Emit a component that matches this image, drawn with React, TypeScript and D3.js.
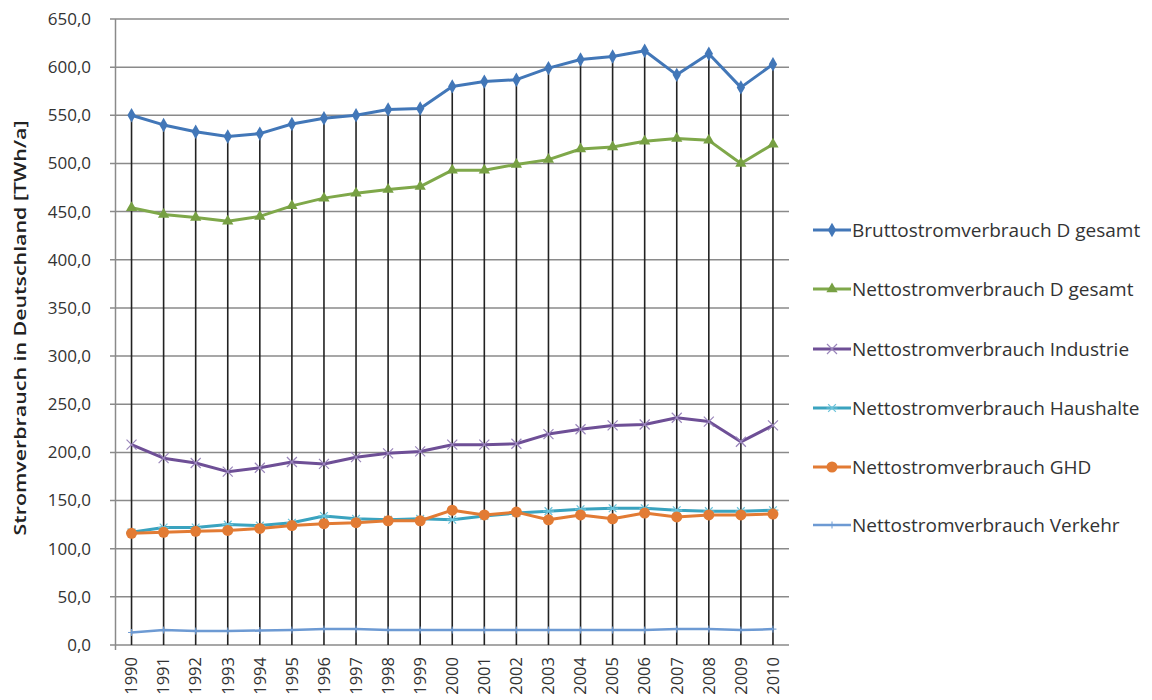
import React from 'react'
import * as d3 from 'd3'

const years = [
	'1990', '1991', '1992', '1993', '1994', '1995', '1996', '1997', '1998', '1999', '2000',
	'2001', '2002', '2003', '2004', '2005', '2006', '2007', '2008', '2009', '2010',
]

const brutto = [550, 540, 533, 528, 531, 541, 547, 550, 556, 557, 580, 585, 587, 599, 608, 611, 617, 592, 614, 579, 603]
const nettoGesamt = [454, 447, 444, 440, 445, 456, 464, 469, 473, 476, 493, 493, 499, 504, 515, 517, 523, 526, 524, 500, 520]
const industrie = [208, 194, 189, 180, 184, 190, 188, 195, 199, 201, 208, 208, 209, 219, 224, 228, 229, 236, 232, 211, 228]
const haushalte = [117, 122, 122, 125, 124, 127, 134, 131, 130, 131, 130, 134, 137, 139, 141, 142, 142, 140, 139, 139, 140]
const ghd = [116, 117, 118, 119, 121, 124, 126, 127, 129, 129, 140, 135, 138, 130, 135, 131, 137, 133, 135, 135, 136]
const verkehr = [13, 15.5, 14.5, 14.5, 15, 15.5, 16.5, 16.5, 15.5, 15.5, 15.5, 15.5, 15.5, 15.5, 15.5, 15.5, 15.5, 16.5, 16.5, 15.5, 16.5]

const yTicks = [0, 50, 100, 150, 200, 250, 300, 350, 400, 450, 500, 550, 600, 650]

const seriesNames = [
	'Bruttostromverbrauch D gesamt',
	'Nettostromverbrauch D gesamt',
	'Nettostromverbrauch Industrie',
	'Nettostromverbrauch Haushalte',
	'Nettostromverbrauch GHD',
	'Nettostromverbrauch Verkehr',
]

const FONT = 'Open Sans, sans-serif'

// marker shapes
const asterisk = (r: number) => {
	const a = r * 0.7
	return `M${-r},0H${r}M${-a},${-a}L${a},${a}M${-a},${a}L${a},${-a}`
}
const cross = (r: number) => `M${-r},${-r}L${r},${r}M${-r},${r}L${r},${-r}`
const plus = (r: number) => `M${-r},0H${r}M0,${-r}V${r}`

const series = [
	{ values: brutto, color: '#4277b8', width: 3, marker: 'diamond' },
	{ values: nettoGesamt, color: '#7fa84a', width: 3, marker: 'triangle' },
	{ values: industrie, color: '#6e4f96', width: 3, marker: 'x' },
	{ values: haushalte, color: '#3aa3bf', width: 3, marker: 'asterisk' },
	{ values: ghd, color: '#e27b34', width: 3, marker: 'circle' },
	{ values: verkehr, color: '#6d9ad3', width: 2.5, marker: 'plus' },
]

const Marker = ({ type, color, x, y }: { type: string; color: string; x: number; y: number }) => {
	const t = `translate(${x},${y})`
	if (type === 'diamond') return <path transform={t} d={d3.symbol(d3.symbolDiamond, 60)()!} fill={color} />
	if (type === 'triangle') return <path transform={t} d={d3.symbol(d3.symbolTriangle, 55)()!} fill="#77a043" />
	if (type === 'circle') return <circle cx={x} cy={y} r={5.5} fill={color} />
	if (type === 'x') return <path transform={t} d={cross(5)} stroke="#9a86bb" strokeWidth={1.2} fill="none" />
	if (type === 'asterisk') return <path transform={t} d={asterisk(5.5)} stroke="#6cc3da" strokeWidth={1.2} fill="none" />
	return <path transform={t} d={plus(3.5)} stroke={color} strokeWidth={1} fill="none" />
}

export default function App() {
	const x = d3.scaleBand<string>().domain(years).range([115.5, 789])
	const cx = (yr: string) => x(yr)! + x.bandwidth() / 2
	const y = d3.scaleLinear().domain([0, 650]).range([645, 19])

	const line = d3
		.line<number>()
		.x((d, i) => cx(years[i]))
		.y(d => y(d))

	const legendY = [230, 289, 349, 408, 467, 525]

	return (
		<svg width={1152} height={700} style={{ position: 'absolute', left: 0, top: 0, background: '#fff' }}>
			{/* horizontal gridlines + ticks */}
			{yTicks.map(t => (
				<g key={t}>
					<line x1={110} x2={789} y1={y(t)} y2={y(t)} stroke="#8a8a8a" strokeWidth={1.5} />
					<text x={91} y={y(t)} dy="0.35em" textAnchor="end" fontFamily={FONT} fontSize={17} fill="#333">
						{t.toFixed(1).replace('.', ',')}
					</text>
				</g>
			))}
			<line x1={115.5} x2={115.5} y1={19} y2={650} stroke="#8a8a8a" strokeWidth={1.5} />

			{/* drop lines */}
			{years.map((yr, i) => (
				<line key={yr} x1={cx(yr)} x2={cx(yr)} y1={y(brutto[i])} y2={y(0)} stroke="#222" strokeWidth={1.6} />
			))}

			{/* x labels */}
			{years.map(yr => (
				<text
					key={yr}
					transform={`translate(${cx(yr)},657) rotate(-90)`}
					dy="0.35em"
					textAnchor="end"
					fontFamily={FONT}
					fontSize={16.5}
					fill="#333"
				>
					{yr}
				</text>
			))}

			{/* series */}
			{series.map((s, k) => (
				<g key={k}>
					<path d={line(s.values)!} fill="none" stroke={s.color} strokeWidth={s.width} strokeLinejoin="round" />
					{s.values.map((v, i) => (
						<Marker key={i} type={s.marker} color={s.color} x={cx(years[i])} y={y(v)} />
					))}
				</g>
			))}

			{/* y title */}
			<text
				transform="translate(20,328) rotate(-90)"
				dy="0.35em"
				textAnchor="middle"
				fontFamily={FONT}
				fontSize={17}
				fontWeight={600}
				textLength={415}
				lengthAdjust="spacingAndGlyphs"
				fill="#222"
			>
				Stromverbrauch in Deutschland [TWh/a]
			</text>

			{/* legend */}
			{series.map((s, k) => (
				<g key={k} transform={`translate(0,${legendY[k]})`}>
					<line x1={813} x2={851} y1={0} y2={0} stroke={s.color} strokeWidth={s.width} />
					<Marker type={s.marker} color={s.color} x={832} y={0} />
					<text x={852} y={0} dy="0.35em" fontFamily={FONT} fontSize={19} fill="#333">
						{seriesNames[k]}
					</text>
				</g>
			))}
		</svg>
	)
}
